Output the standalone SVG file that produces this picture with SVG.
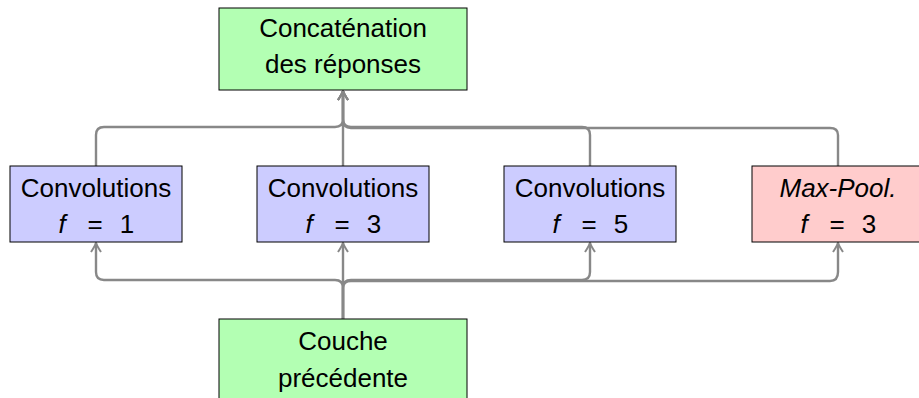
<svg xmlns="http://www.w3.org/2000/svg" width="919" height="398" viewBox="0 0 919 398">
<style>
.box{stroke:#000;stroke-width:1}
.g{fill:#b3ffb3}
.b{fill:#ccccff}
.r{fill:#ffcccc}
text{font-family:"Liberation Sans","DejaVu Sans",sans-serif;font-size:26px;fill:#000}
.c{text-anchor:middle}
.it{font-style:italic}
.conn path{fill:none;stroke:#888;stroke-width:2.4}
</style>
<defs>
<marker id="arr" markerUnits="userSpaceOnUse" markerWidth="20" markerHeight="20" viewBox="-10 -10 20 20" refX="0" refY="0" orient="auto">
<path d="M-9,-5 Q-3,-1 0,0 Q-3,1 -9,5" fill="none" stroke="#888" stroke-width="2"/>
</marker>
</defs>
<g class="conn" id="connectors">
<path d="M96,166 V135 Q96,127 104,127 H335 Q343,127 343,119 V91" marker-end="url(#arr)"/>
<path d="M343,166 V91" marker-end="url(#arr)"/>
<path d="M590,166 V135 Q590,127 582,127 H351 Q343,127 343,119 V91" marker-end="url(#arr)"/>
<path d="M838,166 V135 Q838,128 830,128 H351 Q343,128 343,119 V91" marker-end="url(#arr)"/>
<path d="M343,319 V288 Q343,280 335,280 H104 Q96,280 96,272 V243" marker-end="url(#arr)"/>
<path d="M343,319 V243" marker-end="url(#arr)"/>
<path d="M343,319 V288 Q343,280 351,280 H582 Q590,280 590,272 V243" marker-end="url(#arr)"/>
<path d="M343,319 V288 Q343,281 351,281 H830 Q838,281 838,272 V243" marker-end="url(#arr)"/>
</g>
<g id="concat">
<rect class="box g" x="219" y="8" width="248" height="82"/>
<text class="c" x="343" y="37">Concaténation</text>
<text class="c" x="343" y="73">des réponses</text>
</g>
<g id="conv1">
<rect class="box b" x="10" y="166" width="172" height="76"/>
<text class="c" x="96" y="197">Convolutions</text>
<text class="c" y="233"><tspan class="it" x="62">f</tspan><tspan x="95">=</tspan><tspan x="127">1</tspan></text>
</g>
<g id="conv3">
<rect class="box b" x="257" y="166" width="172" height="76"/>
<text class="c" x="343" y="197">Convolutions</text>
<text class="c" y="233"><tspan class="it" x="309">f</tspan><tspan x="342">=</tspan><tspan x="374">3</tspan></text>
</g>
<g id="conv5">
<rect class="box b" x="504" y="166" width="172" height="76"/>
<text class="c" x="590" y="197">Convolutions</text>
<text class="c" y="233"><tspan class="it" x="556">f</tspan><tspan x="589">=</tspan><tspan x="621">5</tspan></text>
</g>
<g id="maxpool">
<rect class="box r" x="752" y="166" width="172" height="76"/>
<text class="c it" x="838" y="197">Max-Pool.</text>
<text class="c" y="233"><tspan class="it" x="804">f</tspan><tspan x="837">=</tspan><tspan x="869">3</tspan></text>
</g>
<g id="prev">
<rect class="box g" x="219" y="319" width="248" height="90"/>
<text class="c" x="343" y="350">Couche</text>
<text class="c" x="343" y="387">précédente</text>
</g>
</svg>
